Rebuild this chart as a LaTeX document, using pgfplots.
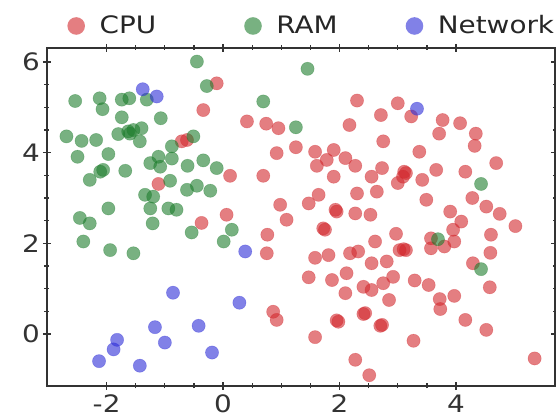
\documentclass[border=0pt]{standalone}
\usepackage{fontspec}
\setmainfont{DejaVu Sans}[FakeStretch=1.16]
\usepackage{pgfplots}
\pgfplotsset{compat=1.18}
\definecolor{cpured}{RGB}{210,40,45}
\definecolor{ramgreen}{RGB}{30,125,45}
\definecolor{netblue}{RGB}{45,45,215}
\begin{document}
\begin{tikzpicture}
\begin{axis}[
  scale only axis,
  width=254pt, height=169pt,
  xmin=-3.024, xmax=5.70,
  ymin=-1.148, ymax=6.31,
  xtick={-2,0,2,4}, ytick={0,2,4,6},
  minor x tick num=3, minor y tick num=3,
  tick align=center,
  major tick length=4pt, minor tick length=2.5pt,
  axis line style={black!80, line width=0.8pt},
  every tick/.style={black!80, line width=0.6pt},
  tick label style={font=\fontsize{12}{14}\selectfont, black!80},
  xticklabel style={yshift=1pt},
  yticklabel style={xshift=2pt},
  /pgf/number format/assume math mode=true,
  legend style={at={(0,1)}, anchor=west, xshift=7pt, yshift=11pt,
    draw=none, fill=none, font=\fontsize{12}{14}\selectfont, text=black!85},
  legend columns=3,
  legend image code/.code={\fill[#1, draw=none] (0pt,0pt) circle (4.4pt); \path (9.5pt,0pt);},
  clip=false,
  dot/.style={only marks, mark=*, mark size=3.3pt, color=#1, fill=#1, fill opacity=0.6,
    mark options={color=#1, fill=#1, fill opacity=0.6, draw opacity=0.35, line width=0.3pt}},
]
\addplot[dot=cpured] table {
x y
-0.11 5.53
-0.34 4.94
-0.71 4.25
-0.62 4.28
-1.11 3.31
-0.37 2.45
0.06 2.63
0.76 2.19
0.75 1.78
1.09 2.52
1.75 2.30
1.72 2.33
1.58 1.68
1.81 1.74
1.47 1.25
1.87 1.19
2.12 1.34
2.18 1.78
2.32 1.82
2.10 0.90
2.55 1.56
2.61 2.04
2.41 1.04
2.55 0.97
2.75 1.12
0.86 0.49
0.92 0.31
1.98 0.27
1.95 0.30
2.41 0.44
2.44 0.46
2.73 0.20
2.70 0.18
1.58 -0.07
2.27 -0.57
2.51 -0.91
1.95 2.70
1.93 2.74
2.27 2.66
2.53 2.63
2.81 1.60
2.85 0.75
2.97 2.21
3.14 1.85
3.10 1.87
3.03 1.85
2.92 1.26
3.27 -0.15
3.29 1.18
3.53 1.08
3.72 0.77
3.73 0.55
3.97 0.84
4.16 0.31
4.52 0.09
4.58 1.03
4.29 1.56
4.59 1.79
4.60 2.19
5.02 2.38
4.75 2.65
4.52 2.81
4.09 2.48
3.95 2.30
3.90 2.70
3.57 2.11
3.80 1.93
3.97 2.04
3.57 1.89
5.35 -0.54
0.41 4.69
0.74 4.64
0.95 4.54
0.92 3.99
1.25 4.12
1.58 4.02
1.61 3.71
1.78 3.84
1.90 4.06
2.10 3.88
2.27 3.71
2.30 5.15
2.17 4.61
2.71 4.83
2.75 4.25
2.73 3.66
2.55 3.47
2.64 3.14
2.30 3.10
1.90 3.47
0.69 3.49
0.12 3.49
0.98 2.85
1.47 2.88
1.64 3.07
3.00 5.09
3.23 4.80
3.77 4.72
4.07 4.65
3.71 4.42
4.34 4.42
4.32 4.15
3.37 4.02
3.14 3.55
3.11 3.58
3.09 3.47
3.00 3.33
3.42 3.40
3.66 3.62
4.16 3.58
4.69 3.77
3.49 2.96
4.28 3.00
};
\addlegendentry{CPU\hspace*{42pt}}
\addplot[dot=ramgreen] table {
x y
-0.45 6.01
-0.28 5.47
-2.54 5.14
-2.12 5.20
-2.07 4.96
-1.74 5.17
-1.61 5.20
-1.31 5.17
-1.74 4.78
-1.07 4.76
-2.69 4.36
-2.43 4.26
-2.18 4.28
-1.80 4.41
-1.63 4.47
-1.60 4.42
-1.54 4.50
-1.40 4.54
-1.43 4.25
-0.51 4.36
-0.88 4.14
-2.50 3.91
-1.97 3.97
-1.25 3.77
-1.11 3.91
-1.08 3.69
-0.88 3.87
-0.61 3.71
-0.34 3.83
-0.11 3.66
-2.11 3.58
-2.06 3.62
-2.29 3.40
-1.68 3.60
-0.91 3.38
-0.62 3.18
-0.45 3.27
-0.22 3.16
-1.34 3.07
-1.20 3.03
-1.25 2.77
-0.94 2.77
-0.80 2.74
-1.97 2.77
-2.46 2.56
-2.29 2.44
-1.21 2.44
-2.40 2.04
-1.94 1.85
-1.54 1.78
-0.54 2.24
0.15 2.30
0.01 2.04
1.45 5.85
0.69 5.13
1.25 4.56
4.43 3.31
4.43 1.43
3.69 2.09
};
\addlegendentry{RAM\hspace*{32pt}}
\addplot[dot=netblue] table {
x y
-1.38 5.40
-1.14 5.24
3.33 4.97
0.38 1.82
0.28 0.69
-0.86 0.91
-1.17 0.15
-0.42 0.18
-1.82 -0.13
-1.88 -0.34
-1.00 -0.19
-2.13 -0.60
-1.43 -0.70
-0.19 -0.41
};
\addlegendentry{Network}
\end{axis}
\pgfresetboundingbox
\path[use as bounding box] (-23.5pt,-15pt) rectangle (254.5pt,193pt);
\end{tikzpicture}
\end{document}
